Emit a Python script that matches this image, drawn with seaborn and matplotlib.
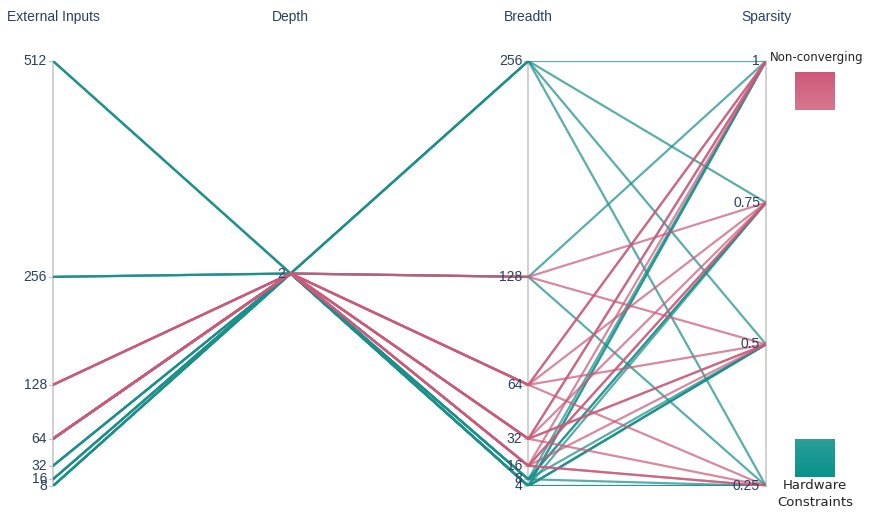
import numpy as np
import pandas as pd
import matplotlib
matplotlib.use("Agg")
import matplotlib.pyplot as plt
from matplotlib.colors import LinearSegmentedColormap
import seaborn as sns

# One row per configuration: external inputs, depth, breadth, sparsity and outcome
external_inputs = [512, 512, 256, 256, 256, 512, 32, 32, 32, 32, 16, 16, 16, 16, 8, 8, 8, 8, 8,
                   64, 64, 64, 64, 64, 64, 64, 64, 64, 64, 64, 64, 64, 64,
                   128, 128, 128, 128, 128]
depth = [2] * 38
breadth = [256, 256, 256, 256, 128, 128, 4, 4, 4, 4, 8, 8, 4, 8, 4, 8, 4, 4, 8,
           128, 128, 64, 64, 64, 64, 32, 32, 32, 32, 16, 16, 16, 16,
           64, 32, 16, 32, 16]
sparsity = [1, 0.75, 0.5, 0.25, 1, 0.25, 1, 0.75, 0.5, 0.25, 1, 0.75, 0.5, 0.25, 1, 0.75, 0.5, 0.25, 0.5,
            0.75, 0.5, 1, 0.75, 0.5, 0.25, 1, 0.75, 0.5, 0.25, 1, 0.75, 0.5, 0.25,
            1, 1, 0.75, 0.5, 0.25]
outcome = ["Hardware Constraints"] * 19 + ["Non-converging"] * 19

dimensions = ["External Inputs", "Depth", "Breadth", "Sparsity"]
ext_ticks = [512, 256, 128, 64, 32, 16, 8]
depth_ticks = [2]
breadth_ticks = [256, 128, 64, 32, 16, 8, 4]
sparsity_ticks = [1, 0.75, 0.5, 0.25]
sparsity_tick_text = ["1", "0.75", "0.5", "0.25"]

PINK = "#c95a7a"
TEAL = "#1b8f8a"
TEXT = "#2a3f5f"

df = pd.DataFrame({
    "External Inputs": external_inputs,
    "Depth": depth,
    "Breadth": breadth,
    "Sparsity": sparsity,
    "Outcome": outcome,
})
df["id"] = np.arange(len(df))


def scale(values, lo, hi):
    values = np.asarray(values, dtype=float)
    if hi == lo:
        return np.full(values.shape, 0.5)
    return (values - lo) / (hi - lo)


ranges = {d: (df[d].min(), df[d].max()) for d in dimensions}

long = []
for i, d in enumerate(dimensions):
    lo, hi = ranges[d]
    long.append(pd.DataFrame({
        "id": df["id"],
        "Outcome": df["Outcome"],
        "axis": i,
        "value": scale(df[d], lo, hi),
    }))
long = pd.concat(long, ignore_index=True)

sns.set_theme(style="white")
plt.rcParams["font.family"] = ["Liberation Sans", "DejaVu Sans"]

W, H = 869, 513
fig = plt.figure(figsize=(W / 100, H / 100), dpi=100)
x0, x1 = 53, 766
y_top, y_bot = 61, 486
ax = fig.add_axes([x0 / W, (H - y_bot) / H, (x1 - x0) / W, (y_bot - y_top) / H])

# vertical axis lines (depth holds a single value, so it has no span)
for i, d in enumerate(dimensions):
    if d != "Depth":
        ax.plot([i, i], [0, 1], color="#c8c8c8", lw=1.2, zorder=1, clip_on=False)

sns.lineplot(data=long[long["Outcome"] == "Hardware Constraints"], x="axis", y="value",
             units="id", estimator=None, color=TEAL, lw=1.6, alpha=0.72,
             legend=False, ax=ax, zorder=2)
sns.lineplot(data=long[long["Outcome"] == "Non-converging"], x="axis", y="value",
             units="id", estimator=None, color=PINK, lw=1.6, alpha=0.72,
             legend=False, ax=ax, zorder=3)
ax.set_xlim(0, 3)
ax.set_ylim(0, 1)
ax.axis("off")

px = 3 / (x1 - x0)  # data units per pixel in x
tick_sets = [
    (ext_ticks, [str(t) for t in ext_ticks]),
    (depth_ticks, ["2"]),
    (breadth_ticks, [str(t) for t in breadth_ticks]),
    (sparsity_ticks, sparsity_tick_text),
]
for i, d in enumerate(dimensions):
    lo, hi = ranges[d]
    vals, labels = tick_sets[i]
    ys = scale(vals, lo, hi)
    for yv, lab in zip(ys, labels):
        ax.plot([i - 4 * px, i], [yv, yv], color="#c8c8c8", lw=1, zorder=1, clip_on=False)
        ax.text(i - 6 * px, yv, lab, ha="right", va="center", fontsize=10,
                color=TEXT, zorder=4, clip_on=False)
    ax.text(i, 1 + 44 / (y_bot - y_top), d, ha="center", va="center",
            fontsize=10, color=TEXT, clip_on=False)

# colour key on the right
fig.text(817 / W, 1 - 58 / H, "Non-converging", ha="center", va="center",
         fontsize=8.5, color="#222222", family=["DejaVu Sans"])
fig.text(815 / W, 1 - 494 / H, "Hardware\nConstraints", ha="center", va="center",
         fontsize=9.5, color="#222222", linespacing=1.45, family=["DejaVu Sans"])

grad = np.linspace(0, 1, 50).reshape(-1, 1)
pink_cm = LinearSegmentedColormap.from_list("pk", ["#cf587a", "#d5788f"])
teal_cm = LinearSegmentedColormap.from_list("tl", ["#2b9e97", "#08938c"])
for (top, bot, cm) in [(72, 110, pink_cm), (439, 477, teal_cm)]:
    bax = fig.add_axes([795 / W, (H - bot) / H, 40 / W, (bot - top) / H])
    bax.imshow(grad, aspect="auto", cmap=cm)
    bax.axis("off")

fig.savefig("out.png", dpi=100)
